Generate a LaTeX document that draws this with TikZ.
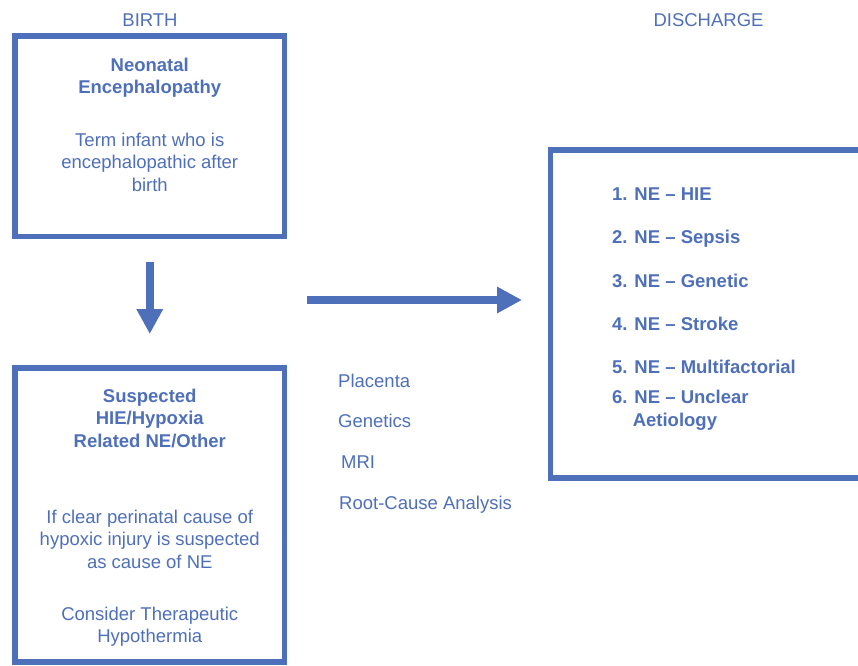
\documentclass[tikz,border=0pt]{standalone}
\usepackage{fontspec}
\setmainfont{Liberation Sans}
\usetikzlibrary{arrows.meta, positioning}
\definecolor{neblue}{RGB}{78,111,185}

\begin{document}
\begin{tikzpicture}[
        x=1pt, y=1pt,
        >={Triangle[length=25pt, width=25pt]},
        font=\fontsize{18.5}{22.5}\selectfont
    ]
    \tikzset{
        box/.style = {draw=neblue, line width=5.5pt, inner sep=0pt},
        boxtext/.style = {text=neblue, align=center, inner sep=0pt},
        boxhead/.style = {boxtext, font=\fontsize{18.5}{22.5}\selectfont\bfseries},
        listtext/.style = {text=neblue, inner sep=0pt},
        listhead/.style = {listtext, font=\fontsize{18.5}{22.5}\selectfont\bfseries},
        bigarrow/.style = {->, draw=neblue, line width=8pt}
    }
    \useasboundingbox (0,0) rectangle (858,-665);

    % Birth column
    \node[listtext, anchor=base] (birth) at (150,-26) {BIRTH};
    \node[box, minimum width=269.5pt, minimum height=200.5pt] (ne) at (149.75,-136.25) {};
    \node[boxhead] (netitle) at (149.75,-77.85) {Neonatal\\Encephalopathy};
    \node[boxtext] (nebody) at (149.75,-161.95) {Term infant who is\\encephalopathic after\\birth};

    \node[box, minimum width=269.5pt, minimum height=294pt] (hie) at (149.75,-515) {};
    \node[boxhead] (hietitle) at (149.75,-418.1) {Suspected\\HIE/Hypoxia\\Related NE/Other};
    \node[boxtext] (hiebody) at (149.75,-538.95) {If clear perinatal cause of\\hypoxic injury is suspected\\as cause of NE};
    \node[boxtext] (hiecool) at (149.75,-626.6) {Consider Therapeutic\\Hypothermia};

    \draw[bigarrow, xshift=-1.5pt, shorten <=22.75pt, shorten >=31.25pt] (ne) -- (hie);

    % Investigations
    \node[listtext, anchor=base west] (placenta) at (338,-387) {Placenta};
    \node[listtext, below=40pt of placenta.base west, anchor=base west] (genetics) {Genetics};
    \node[listtext, below=41pt of genetics.base west, anchor=base west, xshift=3pt] (mri) {MRI};
    \node[listtext, below=82pt of genetics.base west, anchor=base west, xshift=1pt] (rca) {Root-Cause Analysis};

    % Discharge column
    \node[listtext, anchor=base] (discharge) at (708.5,-26) {DISCHARGE};
    \node[box, minimum width=329.5pt, minimum height=328pt] (dx) at (715.25,-314) {};

    \node[listhead, anchor=base west] (nehie) at (612,-200) {1. NE -- HIE};
    \node[listhead, below=43pt of nehie.base west, anchor=base west] (nesepsis) {2. NE -- Sepsis};
    \node[listhead, below=44pt of nesepsis.base west, anchor=base west] (negenetic) {3. NE -- Genetic};
    \node[listhead, below=43pt of negenetic.base west, anchor=base west] (nestroke) {4. NE -- Stroke};
    \node[listhead, below=43pt of nestroke.base west, anchor=base west] (nemulti) {5. NE -- Multifactorial};
    \node[listhead, align=left, anchor=west] (neunclear) at (612,-410.35) {6. NE -- Unclear\\\phantom{6.} Aetiology};

    \coordinate (arrowtail) at (307,-300);
    \draw[bigarrow, shorten >=25.75pt] (arrowtail) -- (arrowtail -| dx.west);

\end{tikzpicture}
\end{document}
